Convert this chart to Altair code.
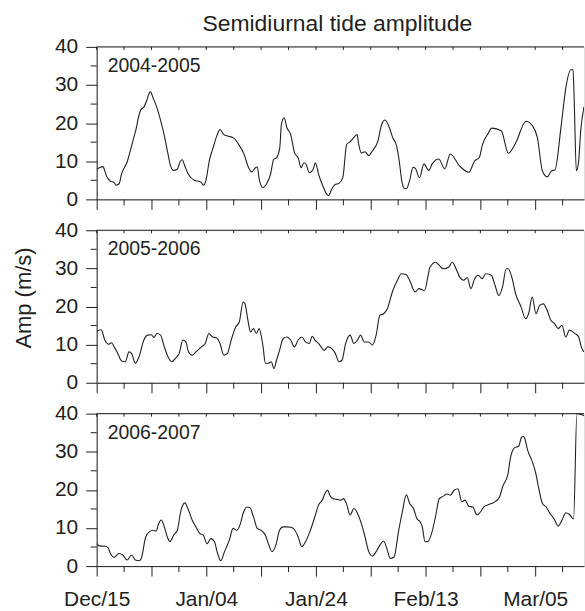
import altair as alt
import pandas as pd

# ---------------- data ----------------
x_tick_days = [0, 10, 20, 30, 40, 50, 60, 70, 80]
x_tick_labels = ["Dec/15", "", "Jan/04", "", "Jan/24", "", "Feb/13", "", "Mar/05"]
x_minor_days = [5, 15, 25, 35, 45, 55, 65, 75, 85]
top_tick_days = [0, 5, 10, 15, 20, 25, 30, 35, 40, 45, 50, 55, 60, 65, 70, 75, 80, 85]
y_major = [0, 10, 20, 30, 40]
y_minor = [5, 15, 25, 35]

season_names = ["2004-2005", "2005-2006", "2006-2007"]

days_0405 = [0, 0.5, 1.15, 1.5, 1.8, 2.5, 3.2, 3.5, 4.1, 4.5,
             5.6, 6.6, 7.25, 7.6, 8.1, 8.6, 9.1, 9.6, 9.8, 10.3,
             11, 11.7, 12.3, 12.9, 13.4, 14, 14.7, 15.25, 15.6, 16.1,
             16.75, 17.8, 18.4, 19.1, 19.5, 19.9, 20.6, 21.15, 21.8, 22.5,
             23.2, 23.9, 24.9, 25.9, 26.9, 27.6, 28.3, 28.95, 29.3, 29.6,
             30.3, 31, 31.7, 32.3, 32.8, 33.4, 33.7, 34.2, 34.7, 35.4,
             36.1, 36.75, 37.3, 37.8, 38.2, 38.8, 39.5, 39.9, 40.5, 41.15,
             42, 42.3, 42.85, 43.5, 44.2, 44.9, 45.6, 46.2, 46.9, 47.5,
             47.8, 48.3, 48.95, 49.6, 50.3, 51.3, 52, 52.6, 53.4, 54,
             54.7, 55.2, 55.7, 56.1, 56.5, 57.1, 57.7, 58.1, 58.9, 59.7,
             60.6, 61.2, 62.4, 63.5, 64.5, 66.2, 67.9, 68.9, 69.8, 70.4,
             71.3, 72.1, 73.8, 75.1, 76.5, 78.3, 79.5, 80.4, 81.3, 82.2,
             83, 83.6, 84.7, 85.6, 86.5, 86.9, 87.1, 87.5, 87.9, 88.3,
             88.9]
amp_0405 = [7.9, 8.3, 8.6, 7.4, 6.1, 4.8, 4.4, 3.7, 4.1, 6.5,
            10, 15.3, 18.8, 21.4, 23.6, 24.2, 25.8, 27.9, 28.2, 26.6,
            24, 20.5, 17, 12.7, 9.2, 7.6, 7.9, 10, 10.4, 8.7,
            6.5, 5, 4.8, 4.4, 3.7, 4.8, 10.5, 13.1, 16.2, 18.3,
            17, 16.6, 16.2, 14.4, 11.8, 8.7, 7.2, 8.3, 8.5, 5.7,
            3.1, 4.1, 6.5, 10.5, 10.9, 13.5, 19.7, 21.4, 18.8, 17,
            12.2, 10.9, 8.3, 9.6, 9.2, 7, 7.9, 9.6, 6.5, 3.9,
            1.3, 1, 2.6, 3.9, 4.2, 5.7, 14.4, 15.1, 16.2, 17,
            14.4, 12.2, 12.5, 11.5, 12.7, 15.3, 19.7, 20.8, 18.8, 16.2,
            14.1, 10, 4.5, 2.9, 2.8, 5, 8.4, 8.2, 5.7, 9.3,
            7.6, 9.3, 10.6, 8, 11.9, 8.8, 7.1, 10, 11, 14.5,
            17, 18.7, 18, 12.1, 15, 20.5, 19.3, 16.2, 7.5, 5.9,
            7.5, 7.7, 18.9, 29.4, 34, 34, 26.8, 7.5, 9.7, 18,
            24.3]

days_0506 = [0, 0.81, 1.49, 2.17, 2.71, 3.19, 3.86, 4.54, 5.22, 5.9,
             6.37, 7.05, 7.73, 8.61, 9.29, 9.97, 10.44, 10.98, 11.66, 12.34,
             13.02, 13.69, 14.37, 15.05, 15.73, 16.27, 16.75, 17.42, 18.1, 19.12,
             19.8, 20.47, 21.15, 21.83, 22.51, 23.19, 23.86, 24.54, 25.36, 26.03,
             26.71, 27.05, 27.59, 28.07, 28.61, 29.15, 29.63, 30.31, 30.78, 31.32,
             31.86, 32.34, 32.81, 33.36, 34.03, 34.71, 35.39, 36.07, 36.75, 37.42,
             38.1, 38.78, 39.32, 39.8, 40.47, 40.95, 41.49, 42.17, 42.85, 43.53,
             44.2, 44.75, 45.42, 46.24, 46.92, 47.59, 48.14, 48.81, 49.63, 50.31,
             50.98, 51.66, 52.34, 53.02, 54.03, 54.71, 55.59, 56.41, 57.08, 58.1,
             58.78, 59.8, 60.81, 61.83, 62.51, 63.19, 64.2, 64.88, 65.56, 66.24,
             66.92, 67.59, 68.27, 68.95, 69.63, 70.31, 70.98, 72, 72.68, 73.36,
             74.03, 74.71, 75.05, 75.73, 76.41, 77.42, 78.24, 78.78, 79.46, 80.14,
             80.81, 81.49, 82.17, 82.85, 83.53, 84.2, 84.88, 85.56, 86.24, 87.25,
             87.93, 88.41, 88.9]
amp_0506 = [13.5, 13.9, 11.2, 10.1, 10.5, 9.4, 7.7, 5.7, 5.5, 8.1,
            7.7, 5.1, 6.8, 11.2, 12.5, 12.6, 11.9, 12.9, 12.5, 9.4,
            6.8, 5.5, 6.4, 7.7, 11.2, 10.7, 8.1, 7.2, 8.1, 9.4,
            10.3, 12.9, 12, 11.8, 10.3, 7.2, 7.7, 11.2, 14.6, 16,
            21.2, 20.7, 16.4, 13.3, 14.2, 12.9, 14.2, 9.9, 5.1, 5.1,
            5.5, 3.7, 5.9, 8.5, 11.6, 12, 11.2, 9.4, 11.2, 12,
            10.7, 10.3, 12.2, 11.2, 10.3, 9.4, 8.5, 9.4, 9, 7.7,
            5.5, 5.9, 10.3, 12.5, 10.3, 11.2, 12.5, 10.7, 10.7, 9.9,
            12.5, 17.7, 18.1, 19.4, 24.2, 26.4, 28.6, 28.4, 26.9, 23.8,
            24.7, 24.2, 30.3, 31.6, 30.8, 29.9, 30.3, 31.6, 29.9, 27.7,
            26.9, 27.6, 24.7, 27.3, 28.2, 27.3, 28.6, 28.2, 25.5, 22.9,
            25.1, 29.9, 29.9, 27.7, 23.4, 19.9, 16.8, 18.1, 22.5, 18.1,
            20.3, 20.7, 19, 16.4, 15.5, 14.2, 15.1, 12, 13.8, 12.9,
            12, 9.4, 8.1]

days_0607 = [0, 0.47, 1.49, 2.03, 2.51, 3.19, 4.07, 4.75, 5.56, 6.37,
             7.05, 7.73, 8.14, 8.95, 9.63, 10.31, 10.85, 11.32, 11.8, 12.34,
             12.88, 13.36, 14.03, 14.71, 15.39, 16.07, 16.75, 17.42, 18.1, 18.78,
             19.46, 20.14, 20.81, 21.49, 21.97, 22.64, 23.32, 24.2, 24.88, 25.56,
             26.24, 26.71, 27.39, 27.93, 28.61, 29.29, 29.97, 30.78, 31.32, 32,
             32.68, 33.36, 34.03, 34.71, 35.39, 36.07, 36.75, 37.42, 38.1, 38.78,
             39.8, 40.47, 41.15, 41.63, 42.17, 42.51, 43.19, 43.86, 44.54, 45.02,
             45.56, 46.24, 46.92, 47.59, 48.27, 48.95, 49.63, 50.31, 50.98, 51.66,
             52.34, 53.02, 53.56, 54.24,
             55.1, 55.7, 56.5, 57.1, 57.8, 58.4, 59, 59.4, 59.9, 60.4,
             61.1, 61.8, 62.5, 63.2, 63.9, 64.5, 65.2, 65.9, 66.6, 67.2,
             67.9, 68.6, 69.4, 70, 70.6, 71.3, 72, 72.7, 73.5, 74.1,
             75, 75.5, 76.2, 77, 77.5, 77.8, 78.1, 78.6, 79.3, 80,
             80.7, 81.3, 82, 82.7, 83.4, 84.2, 84.9, 85.6, 86.2, 87.0,
             87.6, 88.9]
amp_0607 = [5.9, 5.3, 5.2, 4.9, 3.3, 2.3, 3.3, 2.9, 1.6, 2.9,
            1.6, 1.4, 2, 7.7, 9, 9.4, 9.2, 11.2, 12.1, 10.3,
            7.7, 6.4, 8.1, 9.4, 14.7, 16.6, 14.7, 12.1, 10.3, 8.6,
            8.1, 5.9, 7.2, 6.4, 3.8, 1.4, 3.8, 6.8, 9.9, 9.4,
            11.2, 13.8, 15.5, 15.4, 12.9, 9.9, 9.4, 8.1, 5.9, 3.8,
            5.5, 9.4, 10.3, 10.3, 10.2, 9.6, 7.7, 5.1, 6.4, 8.6,
            12.9, 16, 17.3, 19, 19.9, 18.6, 17.7, 17.5, 17.3, 17.7,
            16.4, 13.4, 15.1, 13.8, 11.2, 7.7, 3.8, 2.6, 3.8, 5.5,
            6.6, 4.2, 2, 2.4,
            9.4, 13.8, 18.7, 16.4, 15.1, 12.5, 11.6, 10.3, 6.4, 6.4,
            8.6, 12.9, 17.7, 18.3, 18.9, 18.6, 19.9, 20.3, 16.9, 17.3,
            15.7, 15.5, 13.4, 14.2, 15.5, 16, 16.4, 16.9, 18.2, 21,
            24, 28.5, 31, 31.5, 33.8, 34, 33.5, 30.5, 28, 25,
            20, 16.5, 15.5, 13.8, 12.5, 10.5, 12.1, 14, 13.6, 12.4,
            40, 39.5]

chart_title = "Semidiurnal tide amplitude"
y_title = "Amp (m/s)"

# ---------------- styling ----------------
W, H = 489, 153
X_END = 88.9
INK = "#231f20"
FONT = "Liberation Sans"
TICK_FS = 21

label_expr = "[" + ",".join("'%s'" % s for s in x_tick_labels) + "][round(datum.value / 10)]"

x_scale = alt.Scale(domain=[0, X_END], nice=False, zero=False)
y_scale = alt.Scale(domain=[0, 40], nice=False)


def x_main(show_labels):
    return alt.X(
        "day:Q", scale=x_scale,
        axis=alt.Axis(values=x_tick_days, tickSize=10, labels=show_labels,
                      labelExpr=label_expr, labelPadding=13, labelFontSize=TICK_FS,
                      labelFont=FONT, labelColor=INK, domainColor=INK, tickColor=INK,
                      grid=False, title=None, labelFlush=False, labelOverlap=False,
                      domainWidth=1, tickWidth=1))


def y_main():
    return alt.Y(
        "amp:Q", scale=y_scale,
        axis=alt.Axis(values=y_major, tickSize=11, labelPadding=8, labelFontSize=TICK_FS,
                      labelFont=FONT, labelColor=INK, domainColor=INK, tickColor=INK,
                      grid=False, title=None, labelFlush=False, labelOverlap=False,
                      domainWidth=1, tickWidth=1))


def panel(days, amps, name, show_x_labels, extra=None):
    df = pd.DataFrame({"day": days, "amp": amps})
    line = alt.Chart(df).mark_line(color=INK, strokeWidth=1.1, clip=True,
                                   interpolate="monotone").encode(
        x=x_main(show_x_labels), y=y_main())
    y_minor_ticks = alt.Chart(pd.DataFrame({"amp": y_minor})).mark_rule(
        color=INK, strokeWidth=1).encode(
        y=y_main(), x=alt.value(-6), x2=alt.value(0))
    x_minor_ticks = alt.Chart(pd.DataFrame({"day": x_minor_days})).mark_rule(
        color=INK, strokeWidth=1).encode(
        x=x_main(show_x_labels), y=alt.value(H), y2=alt.value(H + 6))
    top_ticks = alt.Chart(pd.DataFrame({"day": top_tick_days})).mark_rule(
        color=INK, strokeWidth=1).encode(
        x=x_main(show_x_labels), y=alt.value(0), y2=alt.value(3))
    top_line = alt.Chart(pd.DataFrame({"k": [0]})).mark_rule(
        color=INK, strokeWidth=1).encode(
        x=alt.value(0), x2=alt.value(W), y=alt.value(0))
    label = alt.Chart(pd.DataFrame({"t": [name]})).mark_text(
        align="left", baseline="middle", fontSize=19.5, font=FONT, color=INK).encode(
        text="t:N", x=alt.value(11), y=alt.value(19))
    layers = [line, y_minor_ticks, x_minor_ticks, top_ticks, top_line, label]
    if extra is not None:
        layers.extend(extra)
    return alt.layer(*layers).properties(width=W, height=H)


title_mark = alt.Chart(pd.DataFrame({"t": [chart_title]})).mark_text(
    align="center", baseline="alphabetic", fontSize=23, font=FONT, color=INK).encode(
    text="t:N", x=alt.value(W / 2 - 3), y=alt.value(-16))

ytitle_mark = alt.Chart(pd.DataFrame({"t": [y_title]})).mark_text(
    align="center", baseline="middle", angle=270, fontSize=22, font=FONT, color=INK).encode(
    text="t:N", x=alt.value(-73), y=alt.value(68))

p1 = panel(days_0405, amp_0405, season_names[0], False, [title_mark])
p2 = panel(days_0506, amp_0506, season_names[1], False, [ytitle_mark])
p3 = panel(days_0607, amp_0607, season_names[2], True)

chart = alt.vconcat(p1, p2, p3, spacing=31, bounds="flush").properties(
    padding={"left": 12, "top": 11, "right": 0, "bottom": 0}
).configure_view(stroke=None).configure(background="white")

chart.save("out.html", embed_options={"renderer": "svg", "actions": False})
